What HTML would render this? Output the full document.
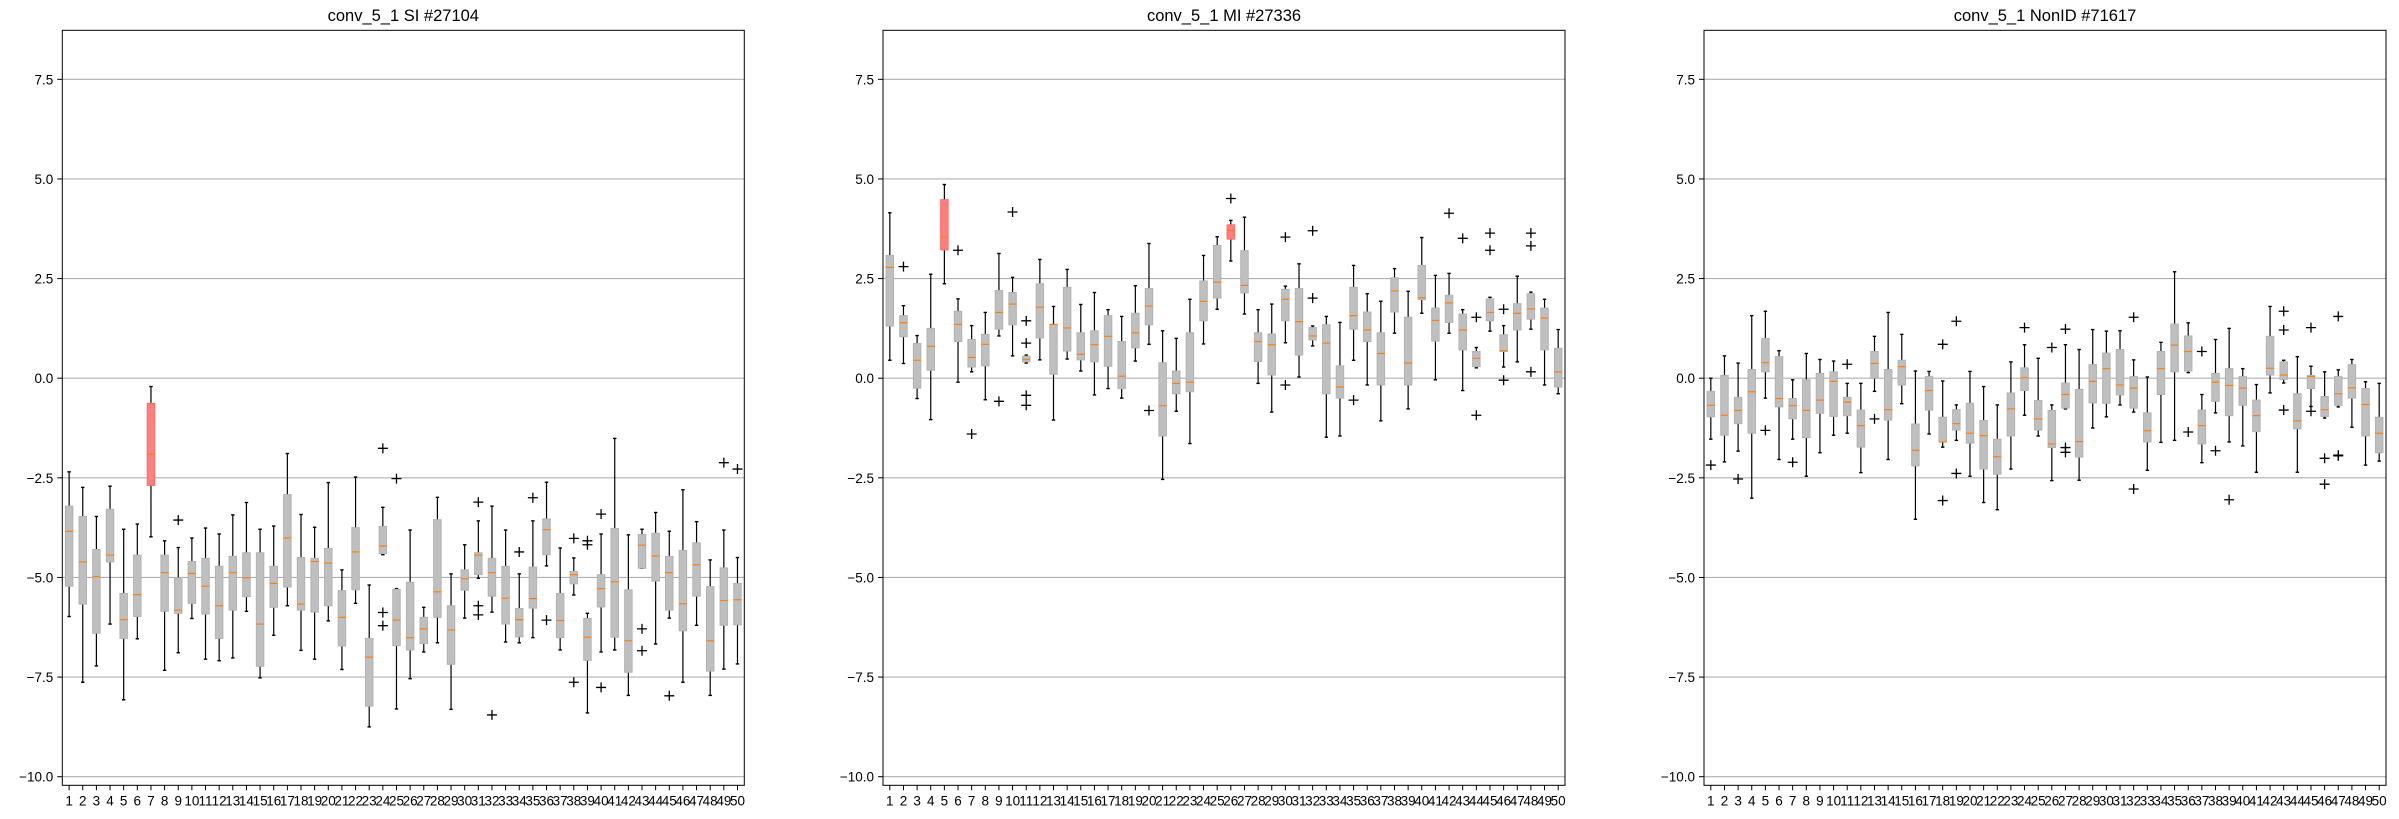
<!DOCTYPE html>
<html><head><meta charset="utf-8">
<style>
html,body{margin:0;padding:0;background:#fff;}
svg{display:block;font-family:"Liberation Sans","DejaVu Sans",sans-serif;}
</style></head>
<body>
<svg id="chart" width="2399" height="819" viewBox="0 0 2399 819" xmlns="http://www.w3.org/2000/svg"></svg>
<script>
const titles = ["conv_5_1 SI #27104", "conv_5_1 MI #27336", "conv_5_1 NonID #71617"];
const yTicks = [7.5, 5.0, 2.5, 0.0, -2.5, -5.0, -7.5, -10.0];
const categories = Array.from({length:50}, (_, i) => String(i + 1));

// Panel 1 (SI)
const p1Hi  = [-2.35,-2.74,-3.47,-2.71,-3.79,-3.66,-0.21,-4.08,-4.25,-4.01,-3.76,-3.91,-3.43,-3.12,-3.79,-3.71,-1.89,-3.42,-3.74,-2.62,-4.81,-2.48,-5.19,-3.24,-5.28,-3.81,-5.75,-2.99,-4.91,-4.18,-3.58,-3.21,-3.81,-4.91,-3.58,-2.61,-4.26,-4.51,-5.90,-3.91,-1.51,-3.93,-3.79,-3.37,-3.84,-2.80,-3.60,-4.56,-3.81,-4.50];
const p1Q3  = [-3.21,-3.47,-4.30,-3.29,-5.40,-4.44,-0.63,-4.44,-5.01,-4.60,-4.52,-4.72,-4.47,-4.38,-4.38,-4.72,-2.92,-4.50,-4.52,-4.27,-5.33,-3.75,-6.53,-3.72,-5.30,-5.12,-6.00,-3.55,-5.71,-4.81,-4.38,-4.52,-4.72,-5.78,-4.74,-3.53,-5.40,-4.85,-6.03,-4.93,-3.77,-5.31,-3.92,-3.89,-4.47,-4.32,-4.13,-5.23,-4.76,-5.15];
const p1Med = [-3.84,-4.61,-4.98,-4.44,-6.06,-5.43,-1.91,-4.88,-5.82,-4.90,-5.22,-5.71,-4.88,-5.01,-6.17,-5.15,-4.01,-5.67,-4.60,-4.64,-6.00,-4.36,-7.00,-4.21,-6.07,-6.51,-6.29,-5.36,-6.32,-5.03,-4.44,-4.88,-5.52,-6.06,-5.53,-3.80,-6.08,-4.93,-6.50,-5.28,-5.11,-6.59,-4.19,-4.46,-4.88,-5.66,-4.68,-6.59,-5.58,-5.56];
const p1Q1  = [-5.22,-5.67,-6.40,-4.61,-6.53,-5.98,-2.69,-5.85,-5.90,-5.65,-5.92,-6.53,-5.82,-5.48,-7.23,-5.75,-5.24,-5.82,-5.87,-5.71,-6.72,-5.31,-8.23,-4.40,-6.71,-6.82,-6.66,-6.00,-7.18,-5.32,-4.93,-5.47,-6.17,-6.49,-5.77,-4.43,-6.51,-5.16,-7.08,-5.74,-6.50,-7.38,-4.77,-5.09,-5.82,-6.34,-5.47,-7.35,-6.20,-6.19];
const p1Lo  = [-5.98,-7.63,-7.22,-6.17,-8.07,-6.54,-3.98,-7.33,-6.89,-6.03,-7.05,-7.09,-7.02,-5.85,-7.52,-6.45,-5.71,-6.83,-7.05,-6.09,-7.31,-5.65,-8.75,-4.43,-8.30,-7.54,-6.87,-6.64,-8.31,-6.02,-5.02,-5.87,-6.62,-6.64,-6.51,-4.71,-6.82,-5.44,-8.40,-6.87,-6.82,-7.96,-4.77,-6.67,-6.02,-7.63,-6.20,-7.96,-7.30,-7.17];
const p1Out = [[],[],[],[],[],[],[],[],[-3.56],[],[],[],[],[],[],[],[],[],[],[],[],[],[],[-1.76,-5.88,-6.21],[-2.52],[],[],[],[],[],[-3.11,-5.71,-5.94],[-8.45],[],[-4.36],[-3.00],[-6.07],[],[-4.02,-7.63],[-4.08,-4.18],[-3.41,-7.76],[],[],[-6.29,-6.84],[],[-7.97],[],[],[],[-2.12],[-2.28]];
const p1Red = [7];

// Panel 2 (MI)
const p2Hi  = [4.15,1.82,1.07,2.61,4.86,1.99,1.32,1.65,3.13,2.53,0.58,2.98,1.80,2.73,1.85,2.15,1.72,1.55,2.32,3.38,1.19,1.00,1.98,3.08,3.55,3.96,4.04,1.72,1.86,2.31,2.87,1.31,1.55,1.40,2.83,2.12,1.93,2.75,2.18,3.53,2.58,2.63,1.72,0.77,2.03,1.32,2.56,2.16,1.98,1.22];
const p2Q3  = [3.08,1.57,0.87,1.25,4.48,1.68,0.97,1.10,2.20,2.15,0.55,2.37,1.35,2.28,1.14,1.19,1.57,0.92,1.63,2.25,0.39,0.18,1.14,2.44,3.33,3.85,3.20,1.14,1.11,2.23,2.25,1.27,1.34,0.31,2.28,1.66,1.14,2.52,1.53,2.83,1.76,2.08,1.61,0.67,1.99,1.09,1.87,2.12,1.76,0.75];
const p2Med = [2.78,1.39,0.45,0.80,3.54,1.35,0.52,0.85,1.65,1.86,0.47,1.78,1.35,1.26,0.60,0.84,1.05,0.05,1.14,1.81,-0.69,-0.13,-0.10,1.93,2.41,3.71,2.33,0.92,0.84,1.98,1.42,1.06,0.88,-0.22,1.57,1.21,0.62,2.19,0.38,2.02,1.45,1.89,1.21,0.50,1.65,0.69,1.63,1.74,1.51,0.16];
const p2Q1  = [1.31,1.04,-0.25,0.20,3.22,0.92,0.28,0.31,1.23,1.34,0.41,1.01,0.10,0.68,0.46,0.41,0.30,-0.26,0.76,1.34,-1.45,-0.39,-0.34,1.44,2.01,3.49,2.14,0.42,0.08,1.44,0.58,0.96,-0.39,-0.50,1.23,0.92,-0.17,1.66,-0.17,1.97,0.93,1.40,0.71,0.29,1.44,0.67,1.21,1.48,0.71,-0.22];
const p2Lo  = [0.45,0.37,-0.51,-1.04,2.37,-0.10,0.16,-0.54,1.06,0.56,0.38,0.46,-1.05,0.48,0.18,-0.42,-0.26,-0.50,0.43,0.85,-2.54,-0.83,-1.64,0.86,1.73,2.94,1.61,-0.13,-0.85,0.89,0.03,0.81,-1.48,-1.45,0.45,-0.17,-1.07,1.13,-0.77,1.63,-0.04,1.13,-0.31,0.26,1.18,0.28,0.41,1.23,-0.17,-0.39];
const p2Out = [[],[2.80],[],[],[],[3.21],[-1.40],[],[-0.58],[4.17],[1.44,0.88,-0.43,-0.68],[],[],[],[],[],[],[],[],[-0.81],[],[],[],[],[],[4.51],[],[],[],[3.54,-0.17],[],[3.70,2.01],[],[],[-0.55],[],[],[],[],[],[],[4.14],[3.51],[1.53,-0.93],[3.64,3.21],[1.73,-0.05],[],[3.64,3.32,0.16],[],[]];
const p2Red = [5, 26];

// Panel 3 (NonID)
const p3Hi  = [0.00,0.56,0.38,1.57,1.68,0.69,-0.04,0.62,0.47,0.43,-0.13,-0.13,1.05,1.65,1.10,0.18,0.17,-0.07,-0.67,0.17,-0.21,-0.67,0.41,0.84,0.50,-0.67,0.84,0.72,1.22,1.18,1.19,0.46,0.03,0.90,2.67,1.39,-0.41,0.97,1.25,0.24,-0.16,1.80,0.45,0.54,0.30,0.16,0.21,0.47,-0.09,-0.13];
const p3Q3  = [-0.33,0.07,-0.48,0.22,1.00,0.54,-0.51,-0.04,0.12,0.16,-0.48,-0.80,0.67,0.22,0.45,-1.15,0.04,-0.98,-0.79,-0.63,-1.06,-1.53,-0.37,0.26,-0.56,-0.81,-0.12,-0.28,0.34,0.63,0.72,0.04,-0.87,0.67,1.36,1.06,-0.80,0.12,0.24,0.04,-0.55,1.05,0.41,-0.39,0.07,-0.46,0.04,0.34,-0.26,-0.98];
const p3Med = [-0.68,-0.93,-0.81,-0.34,0.39,-0.51,-0.69,-0.81,-0.55,-0.08,-0.60,-1.19,0.37,-0.79,0.29,-1.81,-0.31,-1.60,-1.14,-1.38,-1.44,-1.97,-0.77,0.01,-1.02,-1.65,-0.41,-1.59,-0.08,0.24,-0.17,-0.25,-1.32,0.24,0.83,0.67,-1.19,-0.10,-0.18,-0.25,-0.94,0.25,0.08,-1.07,0.04,-0.79,-0.39,-0.24,-0.66,-1.38];
const p3Q1  = [-0.97,-1.43,-1.14,-1.38,0.16,-0.72,-1.02,-1.49,-0.88,-0.96,-0.94,-1.73,0.00,-1.05,-0.17,-2.20,-0.80,-1.60,-1.30,-1.63,-2.28,-2.41,-1.45,-0.31,-1.30,-1.74,-0.75,-1.98,-0.62,-0.63,-0.42,-0.75,-1.60,-0.41,0.16,0.18,-1.65,-0.58,-0.94,-0.68,-1.34,0.08,-0.03,-1.27,-0.26,-0.96,-0.68,-0.50,-1.45,-1.87];
const p3Lo  = [-1.53,-2.10,-1.83,-3.01,-0.50,-2.04,-1.53,-2.46,-1.87,-1.43,-1.38,-2.37,-0.33,-2.04,-0.64,-3.54,-1.40,-1.73,-1.56,-2.46,-3.12,-3.30,-2.28,-0.93,-1.45,-2.57,-0.77,-2.56,-1.25,-0.97,-0.67,-0.85,-2.31,-1.61,-1.56,0.14,-2.12,-0.87,-1.60,-1.70,-2.36,-0.37,-0.12,-2.36,-0.71,-1.00,-0.72,-1.23,-2.18,-2.08];
const p3Out = [[-2.18],[],[-2.53],[],[-1.31],[],[-2.11],[],[],[],[0.35],[],[-1.02],[],[],[],[],[0.85,-3.07],[1.43,-2.39],[],[],[],[],[1.27],[],[0.77],[1.23,-1.74,-1.86],[],[],[],[],[1.53,-2.78],[],[],[],[-1.35],[0.67],[-1.82],[-3.05],[],[],[],[1.68,1.21,-0.80],[],[1.27,-0.83],[-2.01,-2.66],[1.55,-1.93,-1.95],[],[],[]];
const p3Red = [];

const panels = [
  {left:62.3, data:[p1Hi,p1Q3,p1Med,p1Q1,p1Lo,p1Out,p1Red]},
  {left:883, data:[p2Hi,p2Q3,p2Med,p2Q1,p2Lo,p2Out,p2Red]},
  {left:1704, data:[p3Hi,p3Q3,p3Med,p3Q1,p3Lo,p3Out,p3Red]}
];
const W = 682, TOP = 30.3, BOT = 785.3;
const Y0 = 378.2, PPU = 39.85;
const yScale = v => Y0 - v * PPU;
const NS = "http://www.w3.org/2000/svg";
const svg = document.getElementById('chart');
function mk(tag, attrs, parent){
  const e = document.createElementNS(NS, tag);
  for (const k in attrs) e.setAttribute(k, attrs[k]);
  (parent || svg).appendChild(e);
  return e;
}
panels.forEach((p, pi) => {
  const L = p.left;
  const xScale = i => L + (i + 0.5) * W / 50;
  const g = mk('g', {});
  
  
  const t = mk('text', {x: L + W/2, y: 21, 'text-anchor':'middle', 'font-size':'16.5', fill:'#000'}, g);
  t.textContent = titles[pi];
  
  
  yTicks.forEach(v => {
    const y = yScale(v);
    const gl = mk('line', {x1:L, x2:L+W, y1:y, y2:y, stroke:'#b0b0b0', 'stroke-width':1.1}, g);
    
    
    mk('line', {x1:L-5, x2:L, y1:y, y2:y, stroke:'#000', 'stroke-width':1}, g);
    const tl = mk('text', {x:L-9, y:y+5, 'text-anchor':'end', 'font-size':'13.5', fill:'#000'}, g);
    tl.textContent = v.toFixed(1).replace('-', '\u2212');
    
    
  });
  const [hi, q3, med, q1, lo, out, red] = p.data;
  const bw = 0.55 * W / 50, cw = 0.25 * W / 50;
  categories.forEach((c, i) => {
    const x = xScale(i);
    mk('line', {x1:x, x2:x, y1:BOT, y2:BOT+5, stroke:'#000', 'stroke-width':1}, g);
    const xl = mk('text', {x:x, y:BOT+20, 'text-anchor':'middle', 'font-size':'13.5', fill:'#000'}, g);
    xl.textContent = c;
    
    
    const bg = mk('g', {}, g);
    
    
    const isRed = red.includes(i + 1);
    mk('line', {x1:x, x2:x, y1:yScale(hi[i]), y2:yScale(q3[i]), stroke:'#000', 'stroke-width':1.2}, bg);
    mk('line', {x1:x, x2:x, y1:yScale(q1[i]), y2:yScale(lo[i]), stroke:'#000', 'stroke-width':1.2}, bg);
    mk('line', {x1:x-cw/2, x2:x+cw/2, y1:yScale(hi[i]), y2:yScale(hi[i]), stroke:'#000', 'stroke-width':1.4}, bg);
    mk('line', {x1:x-cw/2, x2:x+cw/2, y1:yScale(lo[i]), y2:yScale(lo[i]), stroke:'#000', 'stroke-width':1.4}, bg);
    const yt = yScale(q3[i]), yb = yScale(q1[i]);
    mk('rect', {x:x-bw/2, y:yt, width:bw, height:Math.max(1, yb-yt), fill: isRed ? '#ff7f7f' : '#bfbfbf', stroke: isRed ? '#ff6b6b' : '#b3b3b3', 'stroke-width':1}, bg);
    mk('line', {x1:x-bw/2, x2:x+bw/2, y1:yScale(med[i]), y2:yScale(med[i]), stroke:'#ff7f0e', 'stroke-width':1.2}, bg);
    out[i].forEach(v => {
      const yy = yScale(v);
      const o = mk('path', {d:`M${x-5},${yy}H${x+5}M${x},${yy-5}V${yy+5}`, stroke:'#000', 'stroke-width':1.3, fill:'none'}, bg);
      
      
    });
  });
  const frame = mk('rect', {x:L, y:TOP, width:W, height:BOT-TOP, fill:'none', stroke:'#000', 'stroke-width':1}, g);
  
  
});
</script>
</body></html>
